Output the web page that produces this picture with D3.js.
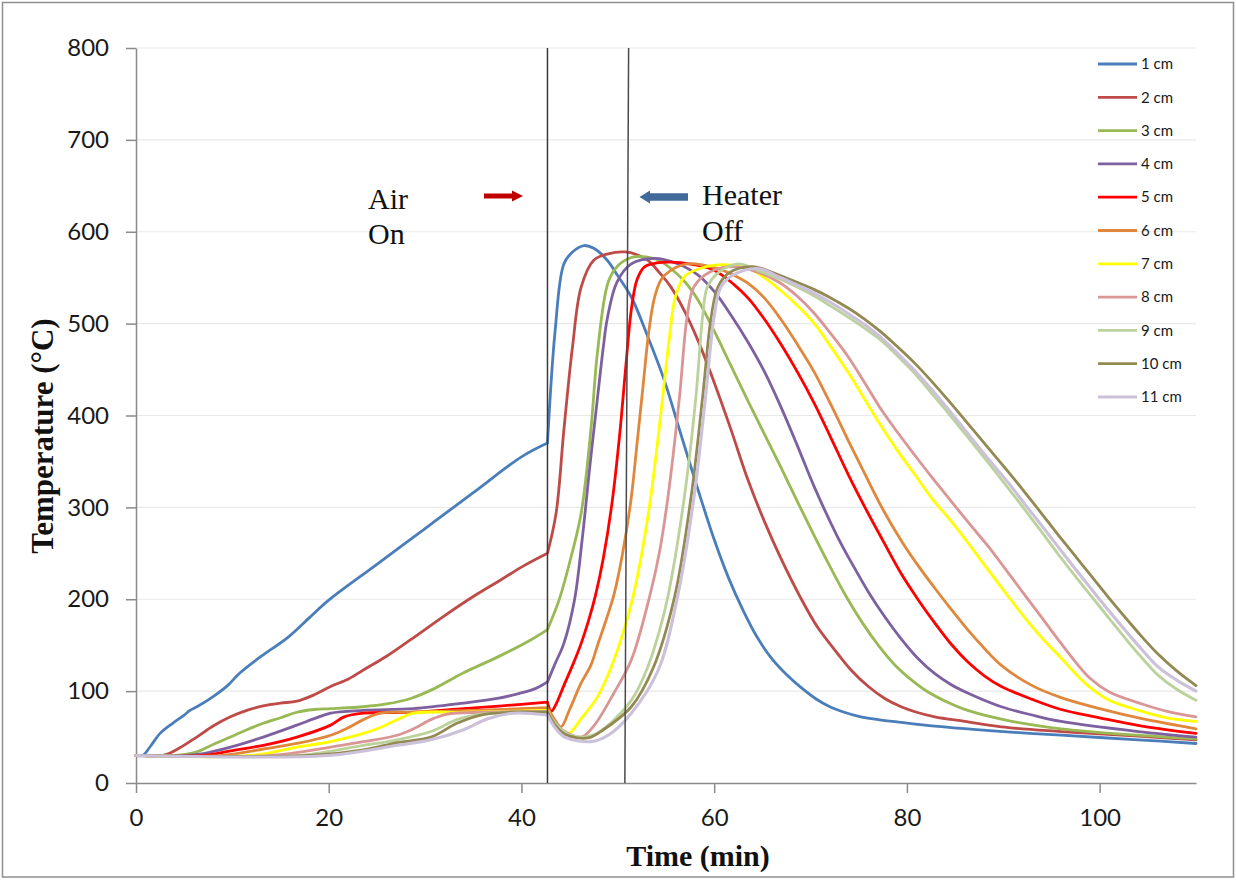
<!DOCTYPE html>
<html>
<head>
<meta charset="utf-8">
<script src="https://cdn.jsdelivr.net/npm/d3@7"></script>
<style>
  body { margin: 0; background: #fff; }
  svg { display: block; }
</style>
</head>
<body>
<svg id="chart" width="1236" height="880"></svg>
<script>
// ---------------- DATA ----------------
const seriesNames = ["1 cm", "2 cm", "3 cm", "4 cm", "5 cm", "6 cm", "7 cm", "8 cm", "9 cm", "10 cm", "11 cm"];
const seriesColors = ["#4a7ebb", "#be4b48", "#98b954", "#7d60a0", "#ff0000", "#e0873c",
                      "#ffff00", "#d99694", "#bcd29c", "#938953", "#ccc1da"];

// [time (min), temperature (°C)]
const cm1 = [[0,30],[0.7,30],[1.5,40],[2.5,54],[3.8,65],[5,74],[5.6,79],[6.5,84],[8,94],[9.5,106],[10.8,120],[13,138],[15.7,158],[18,180],[20,199],[25,238],[30,277],[35,316],[40,355],[42.7,370],[43.5,493],[44.4,565],[45.3,578],[46.5,585],[47.5,582],[48.9,569],[50,552],[51.4,529],[53.1,486],[54.8,439],[56.5,381],[58.3,320],[60,265],[61.5,223],[63,188],[64.5,158],[66,135],[67.5,118],[69,104],[70.5,92],[72,83],[73.5,77],[75,72.5],[77,69],[79.4,66],[82.9,62],[90,56],[96,52],[104,47],[110,43]];
const cm2 = [[0,30],[2.8,30],[4.5,38],[6.3,50],[8,62],[9.8,72],[11.5,79],[13.2,84],[15,87],[16.7,89],[18.5,96],[20.2,105],[22,113],[23.6,123],[26,138],[28.5,156],[32,182],[35,203],[38,222],[40,235],[42.7,250],[43.6,294],[44.4,384],[45.3,475],[46.2,540],[47.5,569],[49,576],[50.7,578],[52,575],[53.1,569],[54.2,557],[55.5,540],[57,512],[58.3,482],[60,436],[61.7,386],[63.5,330],[65.2,285],[66.9,245],[69,201],[70.7,170],[72.5,145],[74.2,123],[76,105],[77.7,92],[79.4,83],[81,77],[82.9,72],[86,67],[89.8,61],[96,56],[104,51],[110,47]];
const cm3 = [[0,30],[4,30],[6.3,34],[8,42],[9.8,50],[11.5,58],[13.2,65],[15,71],[16.7,77],[18.5,80],[20.2,81],[23.6,83],[26,86],[28.5,92],[31,103],[34,120],[37.5,137],[41,156],[42.7,167],[43.9,199],[45,240],[46.2,294],[47.2,384],[47.9,470],[49,545],[50,563],[51.4,572],[52.5,573],[54,570],[55.5,560],[57,545],[58.3,526],[60,492],[61.7,455],[63.5,416],[65.2,380],[66.9,344],[68.6,307],[70.3,271],[72,236],[73.7,203],[75.4,174],[77.1,149],[78.8,128],[80.5,112],[82.2,99],[84,89],[86.3,79],[90.5,68],[96,59],[104,52],[110,48]];
const cm4 = [[0,30],[5,30],[7,32],[9.8,39],[13.2,50],[16.7,63],[18.5,70],[20.2,76],[23.6,79],[28.8,81],[34,87],[37.5,92],[39.6,97],[41.5,103],[42.7,110],[43.5,130],[44.4,152],[45.5,199],[46.3,265],[47.1,345],[47.9,420],[48.5,475],[48.9,505],[49.9,545],[51.4,565],[53.8,571],[56,566],[58.3,553],[60,535],[61.7,510],[63.5,480],[65.2,448],[66.9,410],[68.6,368],[70.4,322],[72.8,268],[74.4,237],[76,208],[77.7,181],[79.4,157],[81.2,135],[82.9,119],[84.6,107],[86.3,98],[89.8,83],[93,74],[96,67],[104,56],[110,50]];
const cm5 = [[0,30],[7,30],[9.8,35],[13.2,41],[16.7,50],[20.2,63],[21.6,72],[23.6,76],[28.8,77],[34,81],[38,84],[42.7,88],[43.1,78],[43.6,86],[44.4,106],[45.3,128],[46.2,152],[47,178],[47.7,205],[48.5,245],[49.4,305],[50.2,380],[50.8,450],[51.4,515],[52,548],[52.8,562],[54,566],[55.5,567],[58,564],[60,558],[62,543],[63.5,528],[65.2,505],[66.9,478],[68.6,448],[70.4,413],[72.1,376],[73.9,336],[75.7,299],[77.5,264],[79.4,228],[81.2,199],[82.9,174],[84.6,151],[86.3,132],[88,117],[89.8,105],[93,91],[96,80],[100,71],[104.4,62],[110,54]];
const cm6 = [[0,30],[9,30],[13.2,37],[16.7,43],[20.2,52],[22,60],[23.6,69],[25.4,76],[28.8,77],[35,79],[42.7,82],[43.4,70],[44.1,61],[45,80],[46.2,109],[47.2,128],[47.9,150],[48.8,178],[49.6,205],[50.5,250],[51.4,311],[52,370],[52.6,430],[53.2,490],[53.8,528],[54.5,548],[55.5,558],[57.2,565],[60,561],[62,553],[63.5,544],[65.2,528],[66.9,505],[68.6,478],[70.4,447],[72.1,412],[73.9,373],[75.7,335],[77.5,298],[79.4,264],[81.2,236],[82.9,212],[84.6,189],[86.3,167],[88,147],[89.8,128],[93,106],[96,93],[100,81],[104.4,70],[110,59]];
const cm7 = [[0,30],[12,30],[16.7,39],[20.2,45],[23.6,54],[25.5,61],[27.1,69],[28.8,76],[34,77],[42.7,79],[43.3,68],[44.2,57],[44.9,54],[46.2,70],[47.9,94],[49.6,134],[51.4,195],[52.4,245],[53.4,310],[54.5,405],[55.3,480],[56,530],[57,552],[58.5,560],[60.4,564],[63.5,560],[65.2,550],[66.9,536],[68.6,520],[70.4,500],[72.1,475],[73.9,447],[75.6,418],[77.3,389],[79,362],[80.8,336],[82.5,311],[84.5,286],[86.3,262],[88,238],[89.8,213],[92,183],[94,158],[96,136],[97.4,120],[99,104],[101,90],[104.4,78],[107,71],[110,67]];
const cm8 = [[0,30],[14,30],[20.2,39],[23.6,45],[27.1,52],[28.8,59],[30.6,69],[32.3,75],[36,77],[42.7,78],[43.5,66],[44.5,56],[46.2,50],[47.5,62],[49.6,98],[51.4,134],[53.3,203],[54.3,250],[55.2,311],[56.4,420],[57.2,508],[57.9,540],[59.5,556],[62,562],[64.5,556],[66.9,544],[68.6,530],[70.4,511],[72.1,489],[73.9,464],[75.6,436],[77.3,407],[79,382],[80.8,357],[82.5,334],[84.5,308],[86.5,282],[88.4,258],[90.5,229],[92.2,205],[94,180],[95.7,156],[97.4,133],[99,114],[101,99],[104.4,86],[107,78],[110,72]];
const cm9 = [[0,30],[17,30],[23.6,41],[27.1,47],[30.6,56],[33.3,69],[35.8,75],[39,77],[42.7,77],[43.5,65],[44.5,55],[46.2,50],[48,55],[51.4,90],[53.1,126],[54.3,165],[55.2,203],[56.9,311],[58.1,420],[58.8,508],[59.3,540],[60.5,556],[62.5,565],[64.5,558],[66.9,548],[68.6,540],[70.4,530],[72.1,519],[73.9,507],[75.6,495],[77.3,482],[79,465],[80.8,446],[82.5,425],[84.5,400],[86.5,374],[88.5,348],[90.5,321],[92.2,298],[94,273],[95.7,249],[97.4,226],[99,205],[101,179],[103,153],[104.4,136],[106,118],[108,102],[110,90]];
const cm10 = [[0,30],[18,30],[23.6,36],[27.1,44],[30.6,50],[33.3,65],[35.8,74],[39,77],[42.7,77],[43.5,63],[44.5,53],[46.9,49],[48.5,58],[51.4,83],[53.7,126],[55.9,203],[57.6,311],[58.8,420],[59.7,508],[60.4,540],[61.5,555],[64,562],[66.9,552],[68.6,545],[70.4,537],[72.1,528],[73.9,517],[75.6,505],[77.3,491],[79,475],[80.8,457],[82.5,438],[84.5,414],[86.5,389],[88.5,364],[90.5,339],[92.2,317],[94,293],[95.7,270],[97.4,248],[99,227],[101,201],[103,176],[104.4,159],[106,141],[108,122],[110,106]];
const cm11 = [[0,30],[20,30],[27.1,41],[30.6,47],[34,58],[36.5,70],[39.2,76],[42.7,74],[43.5,60],[44.5,50],[47.2,45],[49,52],[51.4,76],[54.2,123],[56.2,203],[57.9,311],[59.1,420],[60,508],[60.7,540],[62,553],[64.5,560],[66.9,550],[68.6,542],[70.4,533],[72.1,523],[73.9,511],[75.6,499],[77.3,485],[79,468],[80.8,449],[82.5,429],[84.5,404],[86.5,378],[88.5,352],[90.5,327],[92.2,304],[94,280],[95.7,257],[97.4,234],[99,213],[101,187],[103,162],[104.4,145],[106,127],[108,112],[110,100]];

const allSeries = [cm1, cm2, cm3, cm4, cm5, cm6, cm7, cm8, cm9, cm10, cm11];

const xTicks = [0, 20, 40, 60, 80, 100];
const yTicks = [0, 100, 200, 300, 400, 500, 600, 700, 800];
const xDomain = [0, 110];
const yDomain = [0, 800];

// event markers (min)
const airOnTime = 42.7;
const heaterOffTop = 51.12;
const heaterOffBottom = 50.73;

// ---------------- DRAW ----------------
const svg = d3.select("#chart");

svg.append("rect")
  .attr("x", 2.5).attr("y", 2.5).attr("width", 1231).attr("height", 874.5)
  .attr("fill", "#fff").attr("stroke", "#8f8f8f").attr("stroke-width", 1.5);

const x = d3.scaleLinear().domain(xDomain).range([136, 1196]);
const y = d3.scaleLinear().domain(yDomain).range([783, 48]);

// gridlines
svg.append("g").selectAll("line")
  .data(yTicks.filter(d => d > 0))
  .join("line")
  .attr("x1", x(xDomain[0])).attr("x2", x(xDomain[1]))
  .attr("y1", d => y(d)).attr("y2", d => y(d))
  .attr("stroke", "#e9e9e9").attr("stroke-width", 1.2);

// axes
const axisColor = "#8a8a8a";
const tickFont = "Lato, 'Open Sans', sans-serif";

const yAxisG = svg.append("g")
  .attr("transform", `translate(${x(0)},0)`)
  .call(d3.axisLeft(y).tickValues(yTicks).tickSize(10).tickPadding(17).tickSizeOuter(0));
const xAxisG = svg.append("g")
  .attr("transform", `translate(0,${y(0)})`)
  .call(d3.axisBottom(x).tickValues(xTicks).tickSize(10).tickPadding(16).tickSizeOuter(0));

[yAxisG, xAxisG].forEach(g => {
  g.select(".domain").attr("stroke", axisColor).attr("stroke-width", 1.5);
  g.selectAll(".tick line").attr("stroke", axisColor).attr("stroke-width", 1.5);
  g.selectAll(".tick text")
    .attr("fill", "#1a1a1a")
    .style("font-family", tickFont)
    .style("font-size", "24px");
});

// series: split at the air-on instant so the sharp corner there is kept,
// each part drawn with a smooth curve through the read points
const line = d3.line()
  .x(d => x(d[0]))
  .y(d => y(d[1]))
  .curve(d3.curveCatmullRom.alpha(0.5));

function seriesPath(pts) {
  const before = pts.filter(p => p[0] <= airOnTime);
  const after = pts.filter(p => p[0] >= airOnTime);
  return line(before) + line(after).replace(/^M/, "L");
}

svg.append("g").selectAll("path")
  .data(allSeries)
  .join("path")
  .attr("d", d => seriesPath(d))
  .attr("fill", "none")
  .attr("stroke", (d, i) => seriesColors[i])
  .attr("stroke-width", (d, i) => i === 10 ? 3.1 : 2.8)
  .attr("stroke-linejoin", "round")
  .attr("stroke-linecap", "round");

// event lines
svg.append("line")
  .attr("x1", x(airOnTime)).attr("x2", x(airOnTime))
  .attr("y1", y(800)).attr("y2", y(0))
  .attr("stroke", "#3a3a3a").attr("stroke-width", 1.5);
svg.append("line")
  .attr("x1", x(heaterOffTop)).attr("x2", x(heaterOffBottom))
  .attr("y1", y(800)).attr("y2", y(0))
  .attr("stroke", "#4a4a4a").attr("stroke-width", 1.5);

// annotations
const serif = "'Liberation Serif', 'Times New Roman', serif";
const ann = svg.append("g").style("font-family", serif).style("font-size", "30px").attr("fill", "#111");
ann.append("text").attr("x", 368).attr("y", 209).text("Air");
ann.append("text").attr("x", 368).attr("y", 244).text("On");
ann.append("text").attr("x", 702).attr("y", 205).text("Heater");
ann.append("text").attr("x", 702).attr("y", 241).text("Off");

// arrows
svg.append("line").attr("x1", 484).attr("x2", 514).attr("y1", 196).attr("y2", 196)
  .attr("stroke", "#c00000").attr("stroke-width", 5);
svg.append("path").attr("d", "M512,190.5 L523,196 L512,201.5 Z").attr("fill", "#c00000");
svg.append("line").attr("x1", 648).attr("x2", 688).attr("y1", 197).attr("y2", 197)
  .attr("stroke", "#41699a").attr("stroke-width", 7.5);
svg.append("path").attr("d", "M650,190.5 L639.5,197 L650,203.5 Z").attr("fill", "#41699a");

// axis titles
svg.append("text")
  .attr("x", 698).attr("y", 866)
  .attr("text-anchor", "middle")
  .style("font-family", serif).style("font-weight", "bold").style("font-size", "30px")
  .attr("fill", "#111")
  .text("Time (min)");
svg.append("text")
  .attr("transform", "translate(53,436) rotate(-90)")
  .attr("text-anchor", "middle")
  .style("font-family", serif).style("font-weight", "bold").style("font-size", "31px")
  .attr("fill", "#111")
  .text("Temperature (°C)");

// legend
const legend = svg.append("g");
const legendRow = legend.selectAll("g")
  .data(seriesNames)
  .join("g")
  .attr("transform", (d, i) => `translate(1098,${64 + i * 33.3})`);
legendRow.append("line")
  .attr("x1", 0).attr("x2", 39).attr("y1", 0).attr("y2", 0)
  .attr("stroke", (d, i) => seriesColors[i]).attr("stroke-width", 2.8);
legendRow.append("text")
  .attr("x", 43).attr("y", 0).attr("dy", "0.35em")
  .style("font-family", tickFont).style("font-size", "15px")
  .attr("fill", "#1a1a1a")
  .text(d => d);
</script>
</body>
</html>
